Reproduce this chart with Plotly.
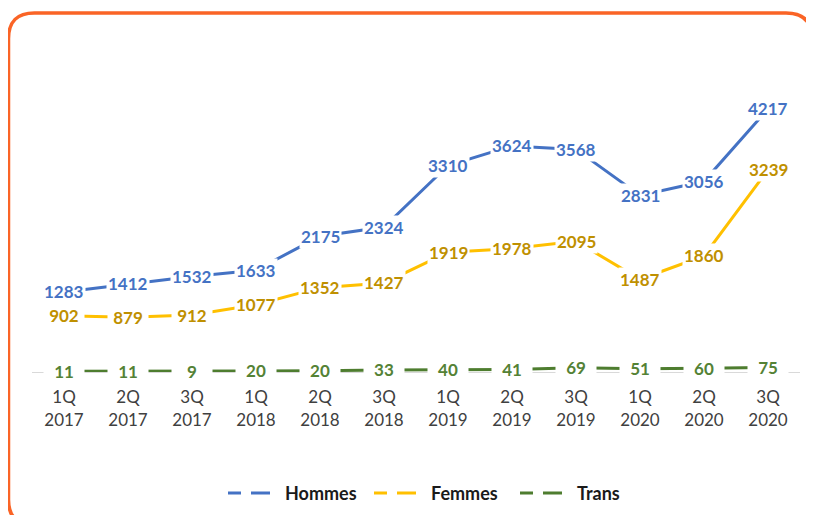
import plotly.graph_objects as go

quarters = ["1Q", "2Q", "3Q", "1Q", "2Q", "3Q", "1Q", "2Q", "3Q", "1Q", "2Q", "3Q"]
years = ["2017", "2017", "2017", "2018", "2018", "2018", "2019", "2019", "2019", "2020", "2020", "2020"]
hommes = [1283, 1412, 1532, 1633, 2175, 2324, 3310, 3624, 3568, 2831, 3056, 4217]
femmes = [902, 879, 912, 1077, 1352, 1427, 1919, 1978, 2095, 1487, 1860, 3239]
trans = [11, 11, 9, 20, 20, 33, 40, 41, 69, 51, 60, 75]

categories = [f"{q}<br>{y}" for q, y in zip(quarters, years)]
x_idx = list(range(len(categories)))

series = [
    ("Hommes", hommes, "#4472C4", "#4472C4"),
    ("Femmes", femmes, "#FFC000", "#BF9000"),
    ("Trans", trans, "#4E7D2F", "#548235"),
]

# page has an 8px body margin; figure coordinates = page coordinates - 8
OFF = 8
W, H = 814, 515
ML, MT = 32 - OFF, 90 - OFF
PLOT_RIGHT = 800 - OFF
PLOT_BOTTOM = 373.5 - OFF
MR = W - PLOT_RIGHT
MB = H - PLOT_BOTTOM
PW, PH = W - ML - MR, H - MT - MB

def px_x(p):
    return (p - OFF - ML) / PW

def px_y(p):
    return (PLOT_BOTTOM - (p - OFF)) / PH

fig = go.Figure()
FONT = "Lato, 'Open Sans', sans-serif"

for name, vals, lc, tc in series:
    fig.add_trace(go.Scatter(x=x_idx, y=vals, mode="lines", name=name,
                             line=dict(color=lc, width=3), showlegend=False,
                             hoverinfo="skip"))
for name, vals, lc, tc in series:
    fig.add_trace(go.Scatter(x=[None], y=[None], mode="lines", name=name,
                             line=dict(color=lc, width=3, dash="13px,10px,19px"),
                             showlegend=True))

annotations = []
for name, vals, lc, tc in series:
    for xi, v in zip(x_idx, vals):
        s = str(v)
        a = dict(x=xi, y=v, xref="x", yref="y", text=s, showarrow=False,
                 bgcolor="white", borderpad=1,
                 font=dict(family=FONT, size=17, color=tc, weight="bold"))
        if len(s) < 4:
            a["width"] = 38
        annotations.append(a)

# rounded border (page pixel coordinates)
L, R, T, B, r = 8.5, 812, 12.5, 528, 26
path = (f"M {px_x(L)},{px_y(T + r)} Q {px_x(L)},{px_y(T)} {px_x(L + r)},{px_y(T)} "
        f"L {px_x(R - r)},{px_y(T)} Q {px_x(R)},{px_y(T)} {px_x(R)},{px_y(T + r)} "
        f"L {px_x(R)},{px_y(B - r)} Q {px_x(R)},{px_y(B)} {px_x(R - r)},{px_y(B)} "
        f"L {px_x(L + r)},{px_y(B)} Q {px_x(L)},{px_y(B)} {px_x(L)},{px_y(B - r)} Z")

fig.update_layout(
    width=W, height=H,
    margin=dict(l=ML, r=MR, t=MT, b=MB),
    paper_bgcolor="white", plot_bgcolor="white",
    annotations=annotations,
    shapes=[dict(type="path", path=path, xref="paper", yref="paper",
                 line=dict(color="#FA6426", width=3.5), layer="above")],
    legend=dict(orientation="h", x=px_x(223), xanchor="left", y=px_y(494), yanchor="middle",
                font=dict(family=FONT, size=18, color="#1a1a1a", weight="bold"),
                itemwidth=52, entrywidth=79, entrywidthmode="pixels",
                bgcolor="rgba(0,0,0,0)"),
    showlegend=True,
)
fig.update_xaxes(range=[-0.5, len(categories) - 0.5], tickmode="array",
                 tickvals=x_idx, ticktext=categories, showgrid=False,
                 showline=True, linecolor="#D9D9D9", linewidth=1, zeroline=False,
                 ticks="outside", ticklen=10, tickcolor="rgba(0,0,0,0)",
                 tickfont=dict(family=FONT, size=17, color="#404040"))
fig.update_yaxes(range=[0, 4520], visible=False, showgrid=False, zeroline=False)

fig.write_html("out.html")
